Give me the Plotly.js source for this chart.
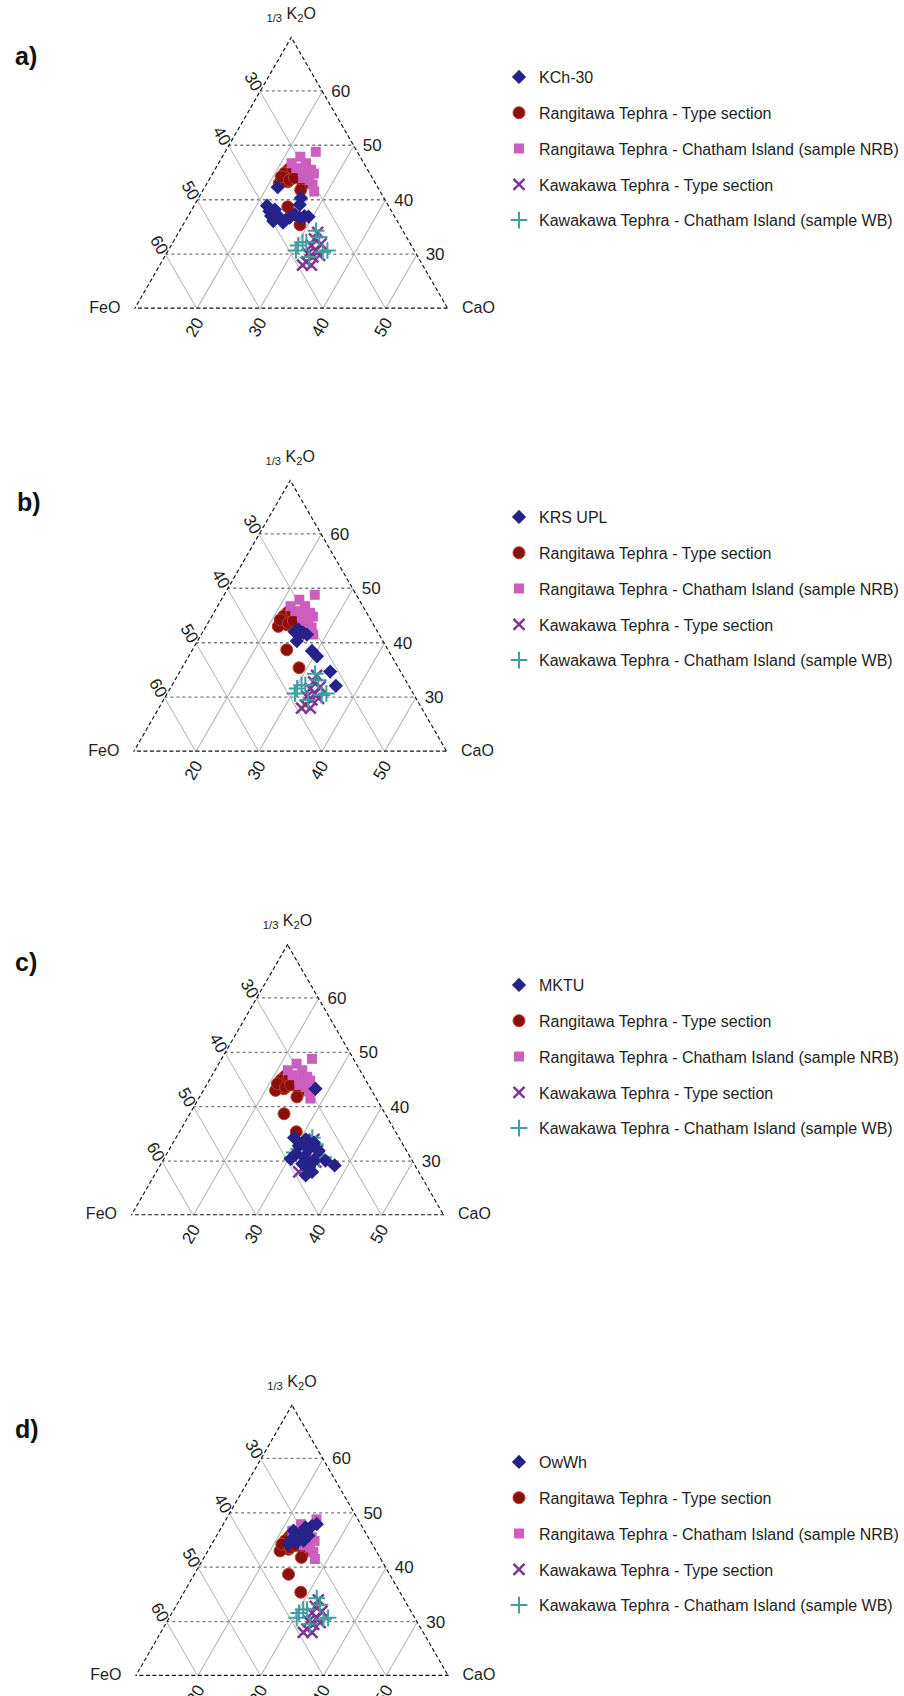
<!DOCTYPE html>
<html><head><meta charset="utf-8">
<script src="https://cdn.plot.ly/plotly-3.0.1.min.js"></script>
<style>html,body{margin:0;padding:0;background:#fff}#chart{width:904px;height:1696px}</style>
</head><body><div id="chart"></div>
<script>
// ---------- comparison series (same in every panel) ----------
const rangTypeK  = [45.6, 44.9, 44.6, 43.6, 43.3, 43.0, 43.6, 42.7, 41.8, 38.7, 35.4, 45.6, 44.2, 43.6, 44.0];
const rangTypeFe = [32.6, 33.6, 32.7, 34.5, 33.9, 35.4, 30.9, 31.8, 32.6, 36.2, 35.9, 31.9, 34.5, 33.5, 32.5];
const rangTypeCa = [21.8, 21.5, 22.7, 21.9, 22.8, 21.6, 25.5, 25.5, 25.6, 25.1, 28.7, 22.5, 21.3, 22.9, 23.5];

const rangNrbK  = [48.8, 47.9, 46.7, 45.5, 45.8, 44.9, 41.5, 46.7, 43.6, 44.0, 42.8, 44.8];
const rangNrbFe = [26.7, 29.6, 29.3, 29.1, 31.3, 30.7, 30.6, 31.6, 30.3, 31.1, 30.2, 29.0];
const rangNrbCa = [24.5, 22.5, 24.0, 25.4, 22.9, 24.4, 27.9, 21.7, 26.1, 24.9, 27.0, 26.2];

const kawaTypeK  = [34.0, 32.8, 31.9, 31.6, 30.7, 30.1, 29.5, 28.6, 28.0, 29.8, 28.0];
const kawaTypeFe = [33.8, 34.9, 34.3, 36.0, 35.7, 37.3, 36.8, 38.3, 37.8, 35.6, 39.2];
const kawaTypeCa = [32.2, 32.3, 33.8, 32.4, 33.6, 32.6, 33.7, 33.1, 34.2, 34.6, 32.8];

const kawaWbK  = [31.6, 30.7, 32.2, 34.3, 33.1, 30.7, 30.4, 29.5, 32.2];
const kawaWbFe = [38.1, 38.9, 37.1, 33.9, 34.0, 33.9, 34.8, 37.4, 36.5];
const kawaWbCa = [30.3, 30.4, 30.7, 31.8, 32.9, 35.4, 34.8, 33.1, 31.3];

// ---------- panel-specific series ----------
const kch30K  = [42.3, 38.9, 38.2, 37.0, 36.7, 36.1, 35.8, 36.4, 37.3, 39.1, 40.3, 37.0, 36.9, 36.7, 36.7, 37.3, 37.9];
const kch30Fe = [36.0, 39.4, 38.5, 39.7, 38.5, 39.8, 38.4, 37.6, 35.8, 34.1, 33.3, 34.4, 33.8, 35.3, 36.9, 38.7, 39.5];
const kch30Ca = [21.7, 21.7, 23.3, 23.3, 24.8, 24.1, 25.8, 26.0, 26.9, 26.8, 26.4, 28.6, 29.3, 28.0, 26.4, 24.0, 22.6];

const krsK  = [42.4, 41.8, 41.5, 42.0, 40.3, 38.5, 37.5, 34.7, 32.1];
const krsFe = [32.5, 32.0, 31.6, 33.3, 33.8, 32.3, 32.0, 31.3, 31.7];
const krsCa = [25.1, 26.2, 26.9, 24.7, 25.9, 29.2, 30.5, 34.0, 36.2];

const mktuK  = [43.3, 34.3, 34.0, 33.4, 32.8, 32.2, 31.9, 31.3, 30.7, 30.1, 29.5, 28.9, 28.0, 29.2, 30.1, 27.4, 30.4];
const mktuFe = [28.9, 36.8, 35.1, 34.1, 36.8, 35.5, 34.1, 38.0, 37.0, 35.7, 37.9, 37.1, 37.1, 32.9, 33.9, 38.4, 39.3];
const mktuCa = [27.8, 28.9, 30.9, 32.5, 30.4, 32.3, 34.0, 30.7, 32.3, 34.2, 32.6, 34.0, 34.9, 37.9, 36.0, 34.2, 30.3];

const owwhK  = [47.9, 47.6, 47.3, 46.7, 46.1, 45.2, 44.6, 44.9, 44.3, 45.8];
const owwhFe = [27.1, 28.0, 29.2, 31.4, 30.6, 32.4, 31.9, 30.7, 33.4, 29.5];
const owwhCa = [25.0, 24.4, 23.5, 21.9, 23.3, 22.4, 23.5, 24.4, 22.3, 24.7];

// ---------- names, axis ranges, tick labels ----------
const panelNames = ['KCh-30', 'KRS UPL', 'MKTU', 'OwWh'];
const panelLetters = ['a)', 'b)', 'c)', 'd)'];
const compNames = ['Rangitawa Tephra - Type section', 'Rangitawa Tephra - Chatham Island (sample NRB)',
                   'Kawakawa Tephra - Type section', 'Kawakawa Tephra - Chatham Island (sample WB)'];
const axisMin = {k2o: 20, feo: 20, cao: 10};
// corners of the zoomed triangle (K2O, FeO, CaO)
const cornerK  = [70, 20, 20, 70];
const cornerFe = [20, 70, 20, 20];
const cornerCa = [10, 10, 60, 10];
const cornerLabels = ['<sub>1/3</sub> K<sub>2</sub>O', 'FeO', 'CaO'];
// grid values and their labels (left edge: FeO, bottom edge: CaO, right edge: K2O)
const gridK = [30, 40, 50, 60];   const leftLabels   = ['60', '50', '40', '30'];
const gridFe = [30, 40, 50, 60];  const bottomLabels = ['50', '40', '30', '20'];
const gridCa = [20, 30, 40, 50];  const rightLabels  = ['60', '50', '40', '30'];

// ---------- layout geometry (pixels) ----------
const W = 904, H = 1696;
const boxes = [  // [left, right, top, bottom]
  [135, 452, 34, 311],
  [134, 451, 477.5, 753.5],
  [131.5, 448, 941, 1218],
  [136, 452.5, 1401, 1679]
];
const legendTop = [60, 500, 968, 1445];
const letterY = [56, 502, 962, 1429];
const letterX = [26, 29, 26, 27];

const FONT = 'Arial, "Liberation Sans", sans-serif';
const styles = {
  first: {symbol: 'diamond', size: 11, color: '#25238a'},
  rt: {symbol: 'circle', size: 12, color: '#8a0f0f', line: {color: '#c23a22', width: 1}},
  rn: {symbol: 'square', size: 10, color: '#cc5ec0'},
  kt: {symbol: 'x-thin-open', size: 11, color: '#7e3596', line: {color: '#7e3596', width: 2.5}},
  kw: {symbol: 'cross-thin-open', size: 12, color: '#3f9ea0', line: {color: '#3f9ea0', width: 2}}
};

const firstSeries = [
  [kch30K, kch30Fe, kch30Ca],
  [krsK, krsFe, krsCa],
  [mktuK, mktuFe, mktuCa],
  [owwhK, owwhFe, owwhCa]
];
const comps = [
  [rangTypeK, rangTypeFe, rangTypeCa, 'rt'],
  [rangNrbK, rangNrbFe, rangNrbCa, 'rn'],
  [kawaTypeK, kawaTypeFe, kawaTypeCa, 'kt'],
  [kawaWbK, kawaWbFe, kawaWbCa, 'kw']
];

const data = [];
const layout = {
  width: W, height: H,
  margin: {l: 0, r: 0, t: 0, b: 0},
  paper_bgcolor: '#fff',
  font: {family: FONT, color: '#1e1e1e', size: 16},
  showlegend: true,
  annotations: []
};

function axisDef(minV, vals, labels, angle, grid) {
  return {
    min: minV, tickmode: 'array', tickvals: vals, ticktext: labels,
    tickangle: angle, ticks: '', showline: false,
    showgrid: true, gridcolor: grid.color, gridwidth: grid.width, griddash: grid.dash,
    tickfont: {family: FONT, size: 17, color: '#1e1e1e'},
    title: {text: ''}, layer: 'below traces'
  };
}

// right-edge labels sit a little further out from the edge
const padRight = (s) => '\u00a0\u00a0' + s;

for (let p = 0; p < 4; p++) {
  const sub = p === 0 ? 'ternary' : 'ternary' + (p + 1);
  const leg = p === 0 ? 'legend' : 'legend' + (p + 1);
  const [l, r, t, b] = boxes[p];
  layout[sub] = {
    domain: {x: [l / W, r / W], y: [1 - b / H, 1 - t / H]},
    sum: 100,
    bgcolor: 'rgba(0,0,0,0)',
    aaxis: axisDef(axisMin.k2o, gridK, leftLabels, 60, {color: '#777', dash: 'dot', width: 1.3}),
    baxis: axisDef(axisMin.feo, gridFe, bottomLabels, -60, {color: '#b0b0b0', dash: 'solid', width: 1}),
    caxis: axisDef(axisMin.cao, gridCa, rightLabels.map(padRight), 0, {color: '#b0b0b0', dash: 'solid', width: 1})
  };
  layout[leg] = {
    x: 503 / W, xanchor: 'left', y: 1 - legendTop[p] / H, yanchor: 'top',
    bgcolor: 'rgba(0,0,0,0)', borderwidth: 0,
    font: {family: FONT, size: 16, color: '#1e1e1e'},
    traceorder: 'grouped', tracegroupgap: 12
  };
  // dashed outline of the triangle
  data.push({
    type: 'scatterternary', subplot: sub, mode: 'lines',
    a: cornerK, b: cornerFe, c: cornerCa,
    line: {color: '#111', width: 2.3, dash: '4px,2.5px'},
    showlegend: false, hoverinfo: 'skip', cliponaxis: false
  });
  // corner titles
  data.push({
    type: 'scatterternary', subplot: sub, mode: 'markers+text',
    a: cornerK.slice(0, 3), b: cornerFe.slice(0, 3), c: cornerCa.slice(0, 3),
    text: cornerLabels, textposition: ['top center', 'middle left', 'middle right'],
    textfont: {family: FONT, size: 16, color: '#1e1e1e'},
    marker: {size: 20, color: 'rgba(0,0,0,0)'},
    showlegend: false, hoverinfo: 'skip', cliponaxis: false
  });
  comps.forEach((c, i) => {
    const s = styles[c[3]];
    data.push({
      type: 'scatterternary', subplot: sub, mode: 'markers',
      name: compNames[i], legend: leg, legendgroup: sub + '_' + i, legendrank: i + 2,
      a: c[0], b: c[1], c: c[2],
      marker: {symbol: s.symbol, size: s.size, color: s.color, line: s.line || {width: 0}},
      cliponaxis: false
    });
  });
  const f = firstSeries[p];
  const s = styles.first;
  data.push({
    type: 'scatterternary', subplot: sub, mode: 'markers',
    name: panelNames[p], legend: leg, legendgroup: sub + '_f', legendrank: 1,
    a: f[0], b: f[1], c: f[2],
    marker: {symbol: s.symbol, size: s.size, color: s.color, line: {width: 0}},
    cliponaxis: false
  });
  layout.annotations.push({
    xref: 'paper', yref: 'paper', x: letterX[p] / W, y: 1 - letterY[p] / H,
    xanchor: 'center', yanchor: 'middle', showarrow: false,
    text: '<b>' + panelLetters[p] + '</b>',
    font: {family: FONT, size: 25, color: '#111'}
  });
}

Plotly.newPlot('chart', data, layout, {staticPlot: true, displayModeBar: false});
</script></body></html>
